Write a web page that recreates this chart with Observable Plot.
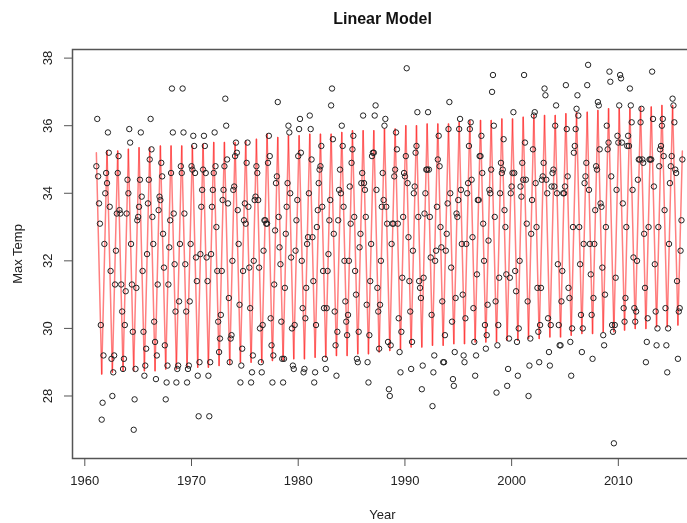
<!DOCTYPE html>
<html><head><meta charset="utf-8">
<script src="https://cdn.jsdelivr.net/npm/d3@7"></script>
<script src="https://cdn.jsdelivr.net/npm/@observablehq/plot@0.6"></script>
<style>html,body{margin:0;padding:0;background:#fff;overflow:hidden}svg{display:block;filter:blur(0.45px);max-width:none!important}</style>
</head><body><div id="chart"></div>
<script>
const firstYear = 1961;
const xTicks = [1960,1970,1980,1990,2000,2010];
const yTicks = [28,30,32,34,36,38];
// monthly max temperature, Jan-Dec per row
const temps1960s = [
34.8,36.2,34.5,33.7,33.1,30.1,27.3,27.8,29.2,32.5,34.0,34.6,
34.3,35.8,35.2,33.6,31.7,29.1,28.0,28.7,29.2,31.3,32.3,33.4,
34.6,35.1,33.5,33.4,31.3,30.5,28.8,29.1,30.1,31.1,33.4,34.4,
34.0,35.9,35.5,32.5,31.3,29.9,27.0,27.9,28.8,31.2,33.2,33.3,
33.6,34.4,35.8,33.9,31.7,29.9,28.6,28.9,29.4,32.2,33.7,34.4,
35.0,36.2,35.3,33.3,32.5,30.2,29.6,28.5,29.2,31.3,33.5,33.9,
33.8,34.9,34.5,32.8,31.8,29.5,27.9,28.4,28.9,31.3,32.4,33.2,
34.6,37.1,35.8,33.4,31.9,30.5,28.4,28.8,28.9,30.8,32.5,34.8,
34.6,37.1,35.8,33.4,31.9,30.5,28.4,28.8,28.9,30.8,32.5,34.8];
const temps1970s = [
34.7,35.7,35.4,34.6,32.1,31.4,28.6,27.4,29.0,32.2,33.6,34.1,
34.7,35.7,35.4,34.6,32.1,31.4,28.6,27.4,29.0,32.2,33.6,34.1,
34.6,35.8,34.8,33.0,31.7,30.2,29.3,29.7,30.4,31.7,33.8,34.1,
34.8,36.8,36.0,35.0,33.7,30.9,29.0,29.7,29.8,32.0,34.1,34.2,
35.1,35.5,35.2,33.5,32.5,30.7,28.4,28.9,29.4,31.7,33.2,33.7,
33.1,34.9,35.5,33.6,31.8,30.6,28.4,28.7,29.2,32.0,33.8,33.9,
34.8,34.6,33.8,31.8,30.0,29.0,28.7,30.1,32.3,33.2,33.2,33.1,
33.1,34.9,35.7,35.1,30.3,29.5,28.4,29.2,31.3,32.9,34.3,34.5,
36.7,33.3,32.4,31.9,30.2,29.1,28.4,29.1,31.2,32.8,33.6,34.3,
36.0,35.8,34.0,32.1,30.0,28.9,28.8,30.1,32.3,33.2,33.8,35.1];
const temps1980s = [
35.9,36.2,35.2,32.0,30.6,28.7,28.8,30.3,31.2,32.5,32.7,34.0,
36.3,35.9,35.0,32.7,31.4,28.4,28.7,30.1,33.0,33.5,34.3,34.7,
34.8,35.4,33.6,31.7,30.6,29.1,28.8,30.6,31.7,32.2,33.2,33.8,
36.6,37.1,35.6,32.8,30.5,29.5,28.6,29.9,33.2,34.1,34.7,34.0,
36.0,35.4,33.6,32.0,30.8,30.2,29.8,30.4,32.0,34.2,33.1,34.9,
35.3,35.7,33.3,31.7,31.0,29.1,29.0,29.9,32.4,32.8,34.3,34.6,
36.3,34.3,34.1,33.3,30.7,29.0,28.4,29.8,31.4,32.5,35.1,35.2,
35.2,36.3,36.6,34.1,31.2,30.5,29.4,30.7,32.0,33.6,34.6,33.8,
36.0,36.2,33.6,33.1,29.6,28.2,28.0,29.5,32.5,33.1,33.1,34.5,
34.7,35.8,35.3,33.1,30.3,29.3,28.7,29.9,31.5,33.3,34.6,34.5];
const temps1990s = [
35.1,37.7,34.3,32.7,31.4,30.5,28.8,29.6,32.3,34.0,34.2,35.2,
35.4,36.4,33.3,31.4,31.2,30.9,28.2,28.9,31.5,33.4,34.0,34.7,
34.7,36.4,34.7,33.3,32.1,30.4,27.7,28.7,29.2,32.0,32.3,33.6,
35.0,35.7,34.8,33.0,32.4,30.8,29.0,29.0,29.8,32.3,32.8,33.7,
35.9,36.7,34.0,31.8,30.2,28.5,28.3,29.3,30.9,33.4,33.3,33.8,
35.9,36.2,34.1,32.5,31.0,29.2,29.0,30.3,32.5,34.0,34.3,35.4,
35.9,36.1,34.4,32.7,30.6,29.6,28.6,29.2,31.6,33.8,33.8,35.1,
35.1,35.7,34.6,33.1,32.0,30.1,29.4,29.8,30.7,32.6,34.1,34.0,
34.7,37.0,37.5,36.0,33.3,30.8,28.1,29.5,30.1,31.5,34.0,34.9,
34.6,34.7,35.6,33.5,33.0,31.6,28.3,28.8,29.7,31.5,34.0,34.2];
const temps2000s = [
34.6,36.4,34.6,31.7,31.1,29.6,28.6,30.0,32.0,34.2,33.9,34.9,
34.4,37.5,35.5,34.4,33.1,30.8,28.0,28.9,29.7,32.8,33.8,35.3,
36.3,36.4,34.3,33.0,31.2,29.9,29.0,30.1,31.2,34.4,34.5,34.9,
37.1,36.9,34.4,34.0,30.3,29.3,28.9,30.1,34.2,34.6,34.7,34.2,
36.0,36.6,34.0,31.9,30.1,29.5,29.5,30.8,31.7,34.0,34.0,34.2,
37.2,35.9,34.5,31.2,30.9,29.6,28.6,30.0,33.0,35.2,35.4,35.9,
36.5,36.9,36.3,33.0,31.9,30.4,29.3,30.0,32.5,34.3,34.5,34.9,
37.2,37.8,34.1,32.5,31.6,30.4,29.1,30.9,32.5,33.5,34.8,34.7,
36.7,36.6,35.3,33.7,33.6,31.8,29.8,29.5,31.0,33.0,36.0,35.3,
35.5,37.6,37.3,34.5,30.1,29.9,26.6,30.1,31.5,34.1,35.7,35.5];
const temps2010s = [
36.6,37.5,37.4,35.5,33.7,30.6,30.2,30.9,33.0,35.4,35.7,35.4,
37.1,36.6,36.1,34.1,32.1,30.6,30.2,30.5,32.0,34.4,35.0,35.0,
36.1,36.5,35.0,34.9,32.8,31.2,29.0,29.6,30.3,33.0,35.0,35.0,
35.0,37.6,36.2,34.2,31.9,30.5,29.5,30.0,33.0,34.8,35.3,35.4,
36.0,36.2,35.1,33.5,30.6,29.5,28.7,30.0,32.5,34.3,34.8,35.1,
36.8,36.6,36.1,34.7,34.6,31.4,29.1,30.5,30.6,32.3,33.2,35.0];
// fitted line: January crest and July trough of each year
const fitPeaks = [35.2,35.25,35.25,35.3,35.35,35.35,35.4,35.4,35.4,35.4,35.45,35.5,35.5,35.5,
35.55,35.6,35.75,35.65,35.7,35.7,35.75,35.75,35.75,35.8,35.85,35.85,35.85,35.9,35.9,36,36,36.05,36.05,36.05,36.1,36.15,
36.15,36.15,36.2,36.2,36.25,36.3,36.3,36.3,36.35,36.4,36.4,36.45,36.5,36.5,36.5,36.55,36.55,36.6,36.6];
const fitTroughs = [28.65,28.7,28.75,28.75,28.75,28.75,28.8,28.8,28.85,28.85,28.85,28.9,28.95,29.0,
29.0,29.0,29.05,29.05,29.1,29.1,29.15,29.15,29.2,29.2,29.25,29.25,29.3,29.35,29.4,29.45,29.45,29.5,29.5,29.55,29.55,29.6,
29.6,29.6,29.65,29.65,29.7,29.7,29.75,29.75,29.8,29.85,29.85,29.9,29.9,29.95,30.0,30.0,30.05,30.05,30.1];
const fitEnd = 35.25;

const temps = [...temps1960s, ...temps1970s, ...temps1980s, ...temps1990s, ...temps2000s, ...temps2010s];
const points = temps.map((t,i)=>({x:firstYear+Math.floor(i/12)+(i%12+1)/12, y:t}));
const vertices = [];
fitPeaks.forEach((p,i)=>{
  vertices.push({x:firstYear+i+1/12,y:p});
  vertices.push({x:firstYear+i+7/12,y:fitTroughs[i]});
});
vertices.push({x:firstYear+fitPeaks.length,y:fitEnd});
// each arm is its own path, so the two arms deepen to full red where they meet at a tip
const fit = vertices.slice(1).flatMap((v,i)=>[{...vertices[i],arm:i},{...v,arm:i}]);

const chart = Plot.plot({
  width:692, height:523,
  marginLeft:72, marginRight:0, marginTop:49, marginBottom:65,
  style:{fontFamily:"'Liberation Sans',Arial,sans-serif",fontSize:"13px",color:"#222",background:"#fff",overflow:"hidden",maxWidth:"none"},
  x:{domain:[1958.847,2016.95]},
  y:{domain:[26.15,38.255]},
  marks:[
    Plot.line(fit,{x:"x",y:"y",z:"arm",stroke:"#ff0000",strokeWidth:1.5,strokeOpacity:0.5}),
    Plot.dot(points,{x:"x",y:"y",r:2.7,stroke:"#222",strokeWidth:1,fill:"none"}),
    Plot.frame({stroke:"#555",strokeWidth:1.5}),
    Plot.axisX({ticks:xTicks,tickFormat:"d",tickSize:8,tickPadding:9,stroke:"#555",label:"Year",labelAnchor:"center",labelOffset:60,labelArrow:"none"}),
    Plot.axisY({ticks:yTicks,tickSize:8,tickPadding:13,stroke:"#555",tickRotate:-90,label:"Max Temp",labelAnchor:"center",labelOffset:60,labelArrow:"none"}),
    Plot.text(["Linear Model"],{frameAnchor:"top",dy:-31,lineAnchor:"middle",fontWeight:"bold",fontSize:16,fill:"#111"})
  ]
});
document.getElementById("chart").appendChild(chart);
</script></body></html>
